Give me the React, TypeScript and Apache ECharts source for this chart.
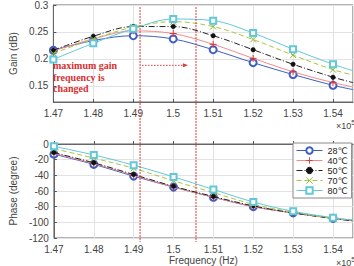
import React, { useEffect, useRef } from "react";
import * as echarts from "echarts";

// Frequency points (×10^5 Hz); the last point only extends the curve to the axis edge
const freqs = [1.47, 1.48, 1.49, 1.5, 1.51, 1.52, 1.53, 1.54, 1.545];

const temps = ["28℃", "40℃", "50℃", "70℃", "80℃"];

// Gain (dB)
const gain28 = [0.216, 0.234, 0.243, 0.237, 0.217, 0.193, 0.171, 0.151, 0.143];
const gain40 = [0.215, 0.237, 0.252, 0.247, 0.227, 0.201, 0.176, 0.156, 0.148];
const gain50 = [0.216, 0.242, 0.26, 0.26, 0.243, 0.217, 0.19, 0.166, 0.156];
const gain70 = [0.21, 0.237, 0.259, 0.269, 0.26, 0.236, 0.207, 0.18, 0.17];
const gain80 = [0.199, 0.229, 0.256, 0.274, 0.271, 0.248, 0.218, 0.19, 0.178];

// Phase (degree)
const phase28 = [-13, -26, -41, -55, -68, -80, -88, -95, -98];
const phase40 = [-12, -25, -40, -55, -68, -80, -88, -95, -98];
const phase50 = [-11, -24, -39, -54, -67, -79, -88, -95, -98];
const phase70 = [-6, -18, -31, -47, -62, -77, -87, -95, -97];
const phase80 = [-3, -14, -27, -42, -58, -74, -86, -94, -97];

const gainTicks = [0.15, 0.2, 0.25, 0.3];

// Frequencies of the maximum gain (dotted red markers)
const peakFreqs = [1.4917, 1.5057];

const PLUS = "path://M0,5L10,5M5,0L5,10";
const CROSS = "path://M1,1L9,9M9,1L1,9";

const styles = [
  { color: "#3d5fc4", line: "solid" as any, symbol: "emptyCircle", size: 7, empty: true },
  { color: "#f28b8b", line: "solid" as any, symbol: PLUS, size: 7, border: "#e03030" },
  { color: "#222", line: [6, 2, 1, 2] as any, symbol: "circle", size: 4.5, fill: "#111" },
  { color: "#a8c83c", line: [5, 3] as any, symbol: CROSS, size: 6, border: "#8cb82c" },
  { color: "#62c8d8", line: "solid" as any, symbol: "emptyRect", size: 6, empty: true },
];

const fmtFreq = (v: number) => String(parseFloat(v.toFixed(3)));

function markerStyle(st: any) {
  if (st.empty) return { color: st.color, borderWidth: 0.9 };
  if (st.border) return { color: "rgba(0,0,0,0)", borderColor: st.border, borderWidth: 1 };
  return { color: st.fill, borderColor: st.fill, borderWidth: 0.5 };
}

function buildSeries(values: number[], idx: number, axis: number) {
  const st = styles[idx];
  const data = values.map((v, i) =>
    i === values.length - 1
      ? { value: [freqs[i], v], symbol: "none" }
      : { value: [freqs[i], v] }
  );
  return {
    type: "line",
    name: temps[idx],
    xAxisIndex: axis,
    yAxisIndex: axis,
    data,
    smooth: 0.35,
    symbol: st.symbol,
    symbolSize: st.size,
    showAllSymbol: true,
    lineStyle: { color: st.color, width: 1, type: st.line },
    itemStyle: markerStyle(st),
    emphasis: { disabled: true },
    z: 3 + idx,
  };
}

export default function App() {
  const ref = useRef<HTMLDivElement>(null);

  useEffect(() => {
    if (!ref.current) return;
    const chart = echarts.init(ref.current, null, { renderer: "svg" });

    const font = "Liberation Sans, Arial, sans-serif";
    const axisLabel = { color: "#444", fontSize: 10, fontFamily: font };
    const splitLine = { show: true, lineStyle: { color: "#e2e2e2", width: 1 } };
    const axisTick = { inside: true, length: 3, lineStyle: { color: "#555" } };
    const axisLine = { show: true, lineStyle: { color: "#666" } };

    const xCommon = {
      type: "value",
      min: 1.47,
      max: 1.545,
      interval: 0.01,
      axisLine,
      axisTick,
      splitLine,
      axisLabel: { ...axisLabel, margin: 6, showMaxLabel: false, formatter: fmtFreq },
    };

    const gains = [gain28, gain40, gain50, gain70, gain80];
    const phases = [phase28, phase40, phase50, phase70, phase80];

    chart.setOption({
      animation: false,
      backgroundColor: "#fff",
      grid: [
        { left: 36, top: 5, width: 317, height: 97, show: true, borderColor: "#666", borderWidth: 1, backgroundColor: "transparent" },
        { left: 36, top: 144, width: 317, height: 96, show: true, borderColor: "#666", borderWidth: 1, backgroundColor: "transparent" },
      ],
      xAxis: [
        { ...xCommon, gridIndex: 0 },
        {
          ...xCommon,
          gridIndex: 1,
          name: "Frequency (Hz)",
          nameLocation: "middle",
          nameGap: 17,
          nameTextStyle: { color: "#444", fontSize: 10, fontFamily: font },
        },
      ],
      yAxis: [
        {
          type: "value",
          gridIndex: 0,
          min: 0.12,
          max: 0.3,
          axisLine,
          axisTick: { ...axisTick, customValues: gainTicks },
          splitLine,
          axisLabel: { ...axisLabel, margin: 5, customValues: gainTicks, formatter: (v: number) => String(parseFloat(v.toFixed(2))) },
          name: "Gain (dB)",
          nameLocation: "middle",
          nameGap: 22,
          nameTextStyle: { color: "#444", fontSize: 10, fontFamily: font },
        },
        {
          type: "value",
          gridIndex: 1,
          min: -120,
          max: 0,
          interval: 20,
          axisLine,
          axisTick,
          splitLine,
          axisLabel: { ...axisLabel, margin: 5 },
          name: "Phase (degree)",
          nameLocation: "middle",
          nameGap: 24,
          nameTextStyle: { color: "#444", fontSize: 10, fontFamily: font },
        },
      ],
      legend: {
        data: temps,
        orient: "vertical",
        left: 293,
        top: 143,
        padding: [3, 4, 3, 3],
        itemGap: 1,
        itemWidth: 26,
        itemHeight: 8,
        backgroundColor: "#fff",
        borderColor: "#888",
        borderWidth: 1,
        borderRadius: 0,
        lineStyle: { width: 1 },
        itemStyle: { borderWidth: 0.9 },
        textStyle: { color: "#222", fontSize: 9, fontFamily: "Liberation Sans, DejaVu Sans, sans-serif" },
        selectedMode: false,
      },
      series: [
        ...gains.map((g, i) => buildSeries(g, i, 0)),
        ...phases.map((p, i) => buildSeries(p, i, 1)),
      ],
    });

    // Dotted red markers for the maximum-gain frequencies, spanning both plots
    const px = peakFreqs.map((f) => chart.convertToPixel({ xAxisIndex: 0 }, f) as number);
    const yTop = 7;
    const yBot = 242;
    const arrowY = chart.convertToPixel({ yAxisIndex: 0 }, 0.188) as number;
    const red = "#e23a3a";

    chart.setOption({
      graphic: [
        ...px.map((x) => ({
          type: "line",
          shape: { x1: x, y1: yTop, x2: x, y2: yBot },
          style: { stroke: red, lineWidth: 1, lineDash: [2, 1] },
          z: 20,
        })),
        {
          type: "line",
          shape: { x1: px[0] + 2, y1: arrowY, x2: px[1] - 12, y2: arrowY },
          style: { stroke: red, lineWidth: 1, lineDash: [1.5, 1.5] },
          z: 20,
        },
        {
          type: "polygon",
          shape: { points: [[px[1] - 13, arrowY - 2], [px[1] - 8, arrowY], [px[1] - 13, arrowY + 2]] },
          style: { fill: red },
          z: 20,
        },
        {
          type: "text",
          left: 53,
          top: 60,
          style: {
            text: "maximum gain\nfrequency is\nchanged",
            fill: "#d83030",
            font: "bold 10px 'Liberation Serif', 'Times New Roman', serif",
            lineHeight: 11.5,
          },
          z: 20,
        },
        {
          type: "text",
          left: 336,
          top: 119,
          style: {
            text: "×10{s|5}",
            fill: "#444",
            font: "9px 'Liberation Sans', Arial, sans-serif",
            rich: { s: { fontSize: 7, verticalAlign: "top", padding: [0, 0, 6, 0] } },
          },
        },
        {
          type: "text",
          left: 336,
          top: 256,
          style: {
            text: "×10{s|5}",
            fill: "#444",
            font: "9px 'Liberation Sans', Arial, sans-serif",
            rich: { s: { fontSize: 7, verticalAlign: "top", padding: [0, 0, 6, 0] } },
          },
        },
      ],
    });

    return () => chart.dispose();
  }, []);

  return <div ref={ref} style={{ width: 354, height: 266, position: "absolute", left: 0, top: 0 }} />;
}
